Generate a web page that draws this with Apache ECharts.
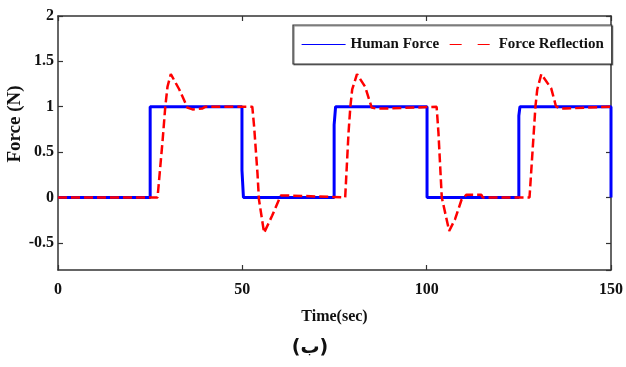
<!DOCTYPE html>
<html>
<head>
<meta charset="utf-8">
<script src="https://cdn.jsdelivr.net/npm/echarts@6/dist/echarts.min.js"></script>
<style>
html,body{margin:0;padding:0;background:#fff;}
#chart{width:626px;height:367px;}
</style>
</head>
<body>
<div id="chart"></div>
<script>
// Data
const xTicks = [0, 50, 100, 150];
const yTicks = ['-0.5', '0', '0.5', '1', '1.5', '2'];
const seriesNames = ['Human Force', 'Force Reflection'];

const humanForce = [
  [0, 0], [25, 0], [25, 1], [49.9, 1], [49.9, 0.3], [50.3, 0.3], [50.3, 0],
  [74.9, 0], [74.9, 0.8], [75.3, 0.8], [75.3, 1], [100.1, 1], [100.1, 0],
  [125, 0], [125, 0.9], [125.3, 0.9], [125.3, 1], [150, 1], [150, 0]
];

const forceReflection = [
  [0, 0], [27.0, 0], [28.4, 0.64], [29.1, 1.0], [29.7, 1.22], [30.6, 1.36],
  [32.9, 1.19], [35.1, 0.99], [36.5, 0.97], [39.1, 0.98], [40, 1.0],
  [52.7, 1.0], [53.2, 0.78], [54.1, 0.27], [54.5, -0.02], [55.9, -0.39],
  [58.1, -0.2], [60.4, 0.02], [63.5, 0.02], [64, 0],
  [77.9, 0], [78.8, 0.71], [79.3, 1.0], [79.8, 1.19], [81.1, 1.36],
  [83.3, 1.22], [85.1, 0.99], [86.5, 0.98], [89.2, 0.98], [89.6, 1.0],
  [102.7, 1.0], [103.2, 0.71], [104.1, 0.0], [106.1, -0.37], [107.7, -0.24],
  [109.5, -0.02], [110.8, 0.03], [114.8, 0.03], [115.2, 0],
  [127.9, 0], [128.8, 0.56], [129.5, 1.0], [130.0, 1.19], [131.1, 1.36],
  [133.8, 1.2], [135.1, 1.0], [136.3, 0.98], [137.5, 0.98], [138, 1.0],
  [150, 1.0]
];

const chart = echarts.init(document.getElementById('chart'));
const serif = "'Liberation Serif', 'Times New Roman', serif";
const axisLineStyle = { color: '#333', width: 1.5 };
const tickStyle = { color: '#333', width: 1.2 };

function boxAxis(extra) {
  return Object.assign({
    type: 'value',
    axisLine: { show: true, onZero: false, lineStyle: axisLineStyle },
    axisTick: { show: true, inside: true, length: 5, lineStyle: tickStyle },
    splitLine: { show: false }
  }, extra);
}

chart.setOption({
  backgroundColor: '#ffffff',
  animation: false,
  grid: { left: 58, right: 11, top: 16, bottom: 97, containLabel: false },
  legend: {
    left: 293, top: 25,
    padding: [12, 8, 12, 8],
    itemGap: 10,
    itemWidth: 44, itemHeight: 14,
    borderColor: '#333', borderWidth: 1.2,
    backgroundColor: '#fff',
    shadowColor: 'rgba(0,0,0,0.45)', shadowOffsetX: 1, shadowOffsetY: 1, shadowBlur: 0,
    itemStyle: { color: 'rgba(0,0,0,0)', borderWidth: 0, opacity: 0 },
    textStyle: { fontFamily: serif, fontWeight: 'bold', fontSize: 15, color: '#111' },
    data: [
      { name: seriesNames[0], lineStyle: { width: 1.2, type: 'solid', color: '#0000ff' } },
      { name: seriesNames[1], lineStyle: { width: 1.2, type: [12, 16], color: '#ff0000' } }
    ]
  },
  xAxis: [boxAxis({
    min: xTicks[0], max: xTicks[xTicks.length - 1], interval: 50,
    position: 'bottom',
    axisLabel: { margin: 12, fontFamily: serif, fontWeight: 'bold', fontSize: 16, color: '#111' },
    name: 'Time(sec)', nameLocation: 'middle', nameGap: 39,
    nameTextStyle: { fontFamily: serif, fontWeight: 'bold', fontSize: 16, color: '#111' }
  }), boxAxis({
    min: xTicks[0], max: xTicks[xTicks.length - 1], interval: 50,
    position: 'top',
    axisLabel: { show: false }
  })],
  yAxis: [boxAxis({
    min: -0.8, max: 2, splitNumber: 5,
    position: 'left',
    axisLabel: {
      margin: 4, showMinLabel: false, fontFamily: serif, fontWeight: 'bold', fontSize: 16, color: '#111',
      formatter: function (v) {
        const s = String(Math.round(v * 10) / 10);
        return yTicks.indexOf(s) >= 0 ? s : '';
      }
    }
  }), boxAxis({
    min: -0.8, max: 2, splitNumber: 5,
    position: 'right',
    axisLabel: { show: false }
  })],
  graphic: [{
    type: 'text', x: 15, y: 124, rotation: Math.PI / 2,
    style: { text: 'Force (N)', align: 'center', verticalAlign: 'middle',
      font: "bold 19px 'Liberation Serif', serif", fill: '#111' }
  }, {
    type: 'text', x: 310, y: 348,
    style: { text: '(ب)', align: 'center', verticalAlign: 'middle',
      font: "bold 19px 'DejaVu Sans', sans-serif", fill: '#111' }
  }],
  series: [{
    name: seriesNames[0], type: 'line', data: humanForce,
    xAxisIndex: 0, yAxisIndex: 0,
    symbol: 'none', showSymbol: false,
    lineStyle: { color: '#0000ff', width: 3 },
    itemStyle: { color: '#0000ff' },
    z: 2
  }, {
    name: seriesNames[1], type: 'line', data: forceReflection,
    xAxisIndex: 0, yAxisIndex: 0,
    symbol: 'none', showSymbol: false,
    lineStyle: { color: '#ff0000', width: 2.5, type: [9, 4] },
    itemStyle: { color: '#ff0000' },
    z: 3
  }]
});
</script>
</body>
</html>
